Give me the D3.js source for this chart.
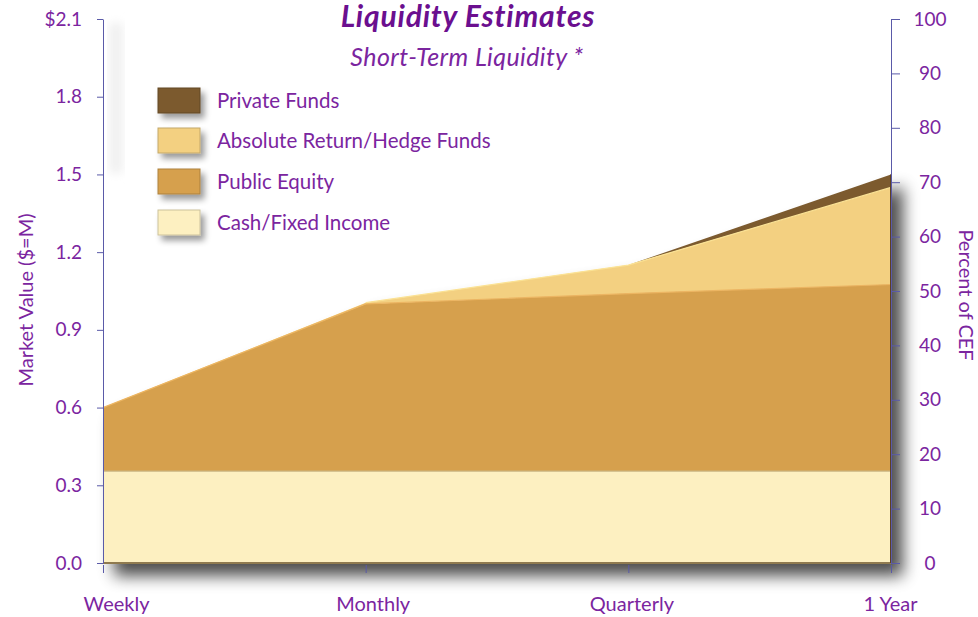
<!DOCTYPE html>
<html lang="en">
<head>
<meta charset="utf-8">
<title>Liquidity Estimates</title>
<style>
  body { margin: 0; background: #fff; }
  svg { font-family: Lato, 'Open Sans', sans-serif; }
  .lbl { fill: #7b259f; }
  .axis path, .axis line { stroke: #5a5aa8; }
  .axis text { fill: #7b259f; font-size: 19px; font-family: Lato, sans-serif; }
  .axis--x text { font-size: 20px; }
  .axis--x path { display: none; }
</style>
</head>
<body>
<svg width="978" height="617"></svg>
<script src="https://cdn.jsdelivr.net/npm/d3@7"></script>
<script>
// data
var periods = ["Weekly", "Monthly", "Quarterly", "1 Year"];
var cashFixed = [0.355, 0.355, 0.355, 0.355];
var publicEquity = [0.245, 0.645, 0.685, 0.72];
var absReturn = [0.0, 0.005, 0.11, 0.375];
var privateFunds = [0.0, 0.0, 0.0, 0.05];
var leftTicks = [0, 0.3, 0.6, 0.9, 1.2, 1.5, 1.8, 2.1];
var rightTicks = [0, 10, 20, 30, 40, 50, 60, 70, 80, 90, 100];
var seriesNames = ["Cash/Fixed Income", "Public Equity", "Absolute Return/Hedge Funds", "Private Funds"];
var seriesColors = ["#fdf0c1", "#d6a04d", "#f3d081", "#7b5a2f"];
var edgeColors = ["#c8b480", "#ecb562", "#fbe294", "#5c4120"];

var svg = d3.select("svg"),
    margin = {top: 19, right: 87, bottom: 54, left: 103},
    width = +svg.attr("width") - margin.left - margin.right,
    height = +svg.attr("height") - margin.top - margin.bottom;

var defs = svg.append("defs");
var shadow = defs.append("filter").attr("id", "shadow")
    .attr("x", "-10%").attr("y", "-10%").attr("width", "130%").attr("height", "130%");
shadow.append("feGaussianBlur").attr("in", "SourceAlpha").attr("stdDeviation", 8);
shadow.append("feOffset").attr("dx", 11).attr("dy", 12).attr("result", "ob");
shadow.append("feComponentTransfer").append("feFuncA").attr("type", "linear").attr("slope", 0.7);
var m = shadow.append("feMerge");
m.append("feMergeNode");
m.append("feMergeNode").attr("in", "SourceGraphic");

var small = defs.append("filter").attr("id", "small")
    .attr("x", "-30%").attr("y", "-30%").attr("width", "170%").attr("height", "190%");
small.append("feGaussianBlur").attr("in", "SourceAlpha").attr("stdDeviation", 3);
small.append("feOffset").attr("dx", 4).attr("dy", 5);
small.append("feComponentTransfer").append("feFuncA").attr("type", "linear").attr("slope", 0.4);
var m2 = small.append("feMerge");
m2.append("feMergeNode");
m2.append("feMergeNode").attr("in", "SourceGraphic");

var blur = defs.append("filter").attr("id", "blur");
blur.append("feGaussianBlur").attr("stdDeviation", 5);

var x = d3.scalePoint().domain(periods).range([0, width]),
    y = d3.scaleLinear().domain([0, 2.1]).range([height, 0]),
    yPct = d3.scaleLinear().domain([0, 100]).range([height, 0]);

var g = svg.append("g")
    .attr("transform", "translate(" + margin.left + "," + margin.top + ")");

// faint shade near the top of the left axis
g.append("rect")
    .attr("x", 6).attr("y", 4).attr("width", 14).attr("height", 150)
    .attr("fill", "#f0f0f0").attr("filter", "url(#blur)");

var data = periods.map(function(p, i) {
  return {period: p, cash: cashFixed[i], equity: publicEquity[i], absret: absReturn[i], priv: privateFunds[i]};
});
var keys = ["cash", "equity", "absret", "priv"];
var stacked = d3.stack().keys(keys)(data);

var area = d3.area()
    .x(function(d) { return x(d.data.period); })
    .y0(function(d) { return y(d[0]); })
    .y1(function(d) { return y(d[1]); });

var topLine = d3.line()
    .x(function(d) { return x(d.data.period); })
    .y(function(d) { return y(d[1]); });

var areas = g.append("g").attr("filter", "url(#shadow)");
areas.selectAll(".layer")
  .data(stacked)
  .enter().append("path")
    .attr("class", "layer")
    .attr("fill", function(d, i) { return seriesColors[i]; })
    .attr("d", area);

areas.selectAll(".edge")
  .data(stacked)
  .enter().append("path")
    .attr("class", "edge")
    .attr("fill", "none")
    .attr("stroke", function(d, i) { return edgeColors[i]; })
    .attr("stroke-width", 1.2)
    .attr("d", function(d) {
      // only draw an edge where the layer has some thickness
      return topLine.defined(function(p) { return p[1] - p[0] > 0.001; })(d);
    });

// bottom and right side edges of the block
areas.append("line")
    .attr("x1", 0).attr("x2", width).attr("y1", height).attr("y2", height)
    .attr("stroke", "#8f7a4f").attr("stroke-width", 2);
areas.append("line")
    .attr("x1", width).attr("x2", width)
    .attr("y1", y(d3.sum([cashFixed[3], publicEquity[3], absReturn[3], privateFunds[3]]))).attr("y2", height)
    .attr("stroke", "#5c4120").attr("stroke-width", 2);

// axes
var yAxis = g.append("g")
    .attr("class", "axis axis--y")
    .call(d3.axisLeft(y).tickValues(leftTicks).tickSize(6).tickSizeOuter(0).tickPadding(15)
      .tickFormat(function(d, i) { return i === leftTicks.length - 1 ? "$" + d3.format(".1f")(d) : d3.format(".1f")(d); }));
yAxis.select(".domain").attr("stroke", "#8d8dcc");

var yAxisR = g.append("g")
    .attr("class", "axis axis--yr")
    .attr("transform", "translate(" + width + ",0)")
    .call(d3.axisRight(yPct).tickValues(rightTicks).tickSize(9).tickSizeOuter(0));
yAxisR.selectAll(".tick text").attr("text-anchor", "middle").attr("x", 39);
yAxisR.selectAll(".tick line").attr("stroke", function(d) { return d === 70 ? "#f04848" : "#5a5aa8"; });
yAxisR.select(".domain").attr("stroke", "#6d6dbb");

var xAxis = g.append("g")
    .attr("class", "axis axis--x")
    .attr("transform", "translate(0," + (height + 2) + ")")
    .call(d3.axisBottom(x).tickSize(8).tickPadding(24));
xAxis.selectAll(".tick text").attr("dx", function(d, i) { return [13, 7, 3, -1][i]; });

// axis titles
svg.append("text")
    .attr("class", "lbl")
    .attr("transform", "translate(33,300) rotate(-90)")
    .attr("text-anchor", "middle")
    .style("font-size", "20px")
    .text("Market Value ($=M)");

svg.append("text")
    .attr("class", "lbl")
    .attr("transform", "translate(959,295) rotate(90)")
    .attr("text-anchor", "middle")
    .style("font-size", "20px")
    .text("Percent of CEF");

// titles
svg.append("text")
    .attr("x", 468).attr("y", 27)
    .attr("text-anchor", "middle")
    .style("font-size", "30px").style("font-weight", "bold").style("font-style", "italic")
    .style("letter-spacing", "0.8px")
    .attr("fill", "#6b0f8f")
    .text("Liquidity Estimates");

svg.append("text")
    .attr("class", "lbl")
    .attr("x", 467).attr("y", 66)
    .attr("text-anchor", "middle")
    .style("font-size", "25px").style("font-style", "italic")
    .style("letter-spacing", "0.4px")
    .text("Short-Term Liquidity *");

// legend
var legendRows = [3, 2, 1, 0];
var legendY = [88, 128, 169, 210];
var legend = svg.append("g").attr("transform", "translate(158,0)");
var item = legend.selectAll(".item")
  .data(legendRows)
  .enter().append("g")
    .attr("class", "item")
    .attr("transform", function(d, i) { return "translate(0," + legendY[i] + ")"; });
item.append("rect")
    .attr("width", 42).attr("height", 25)
    .attr("fill", function(d) { return seriesColors[d]; })
    .attr("stroke", function(d) { return d3.color(seriesColors[d]).darker(0.6); })
    .attr("stroke-width", 1)
    .attr("filter", "url(#small)");
item.append("text")
    .attr("class", "lbl")
    .attr("x", 59).attr("y", 20)
    .style("font-size", "20.5px")
    .text(function(d) { return seriesNames[d]; });
</script>
</body>
</html>
